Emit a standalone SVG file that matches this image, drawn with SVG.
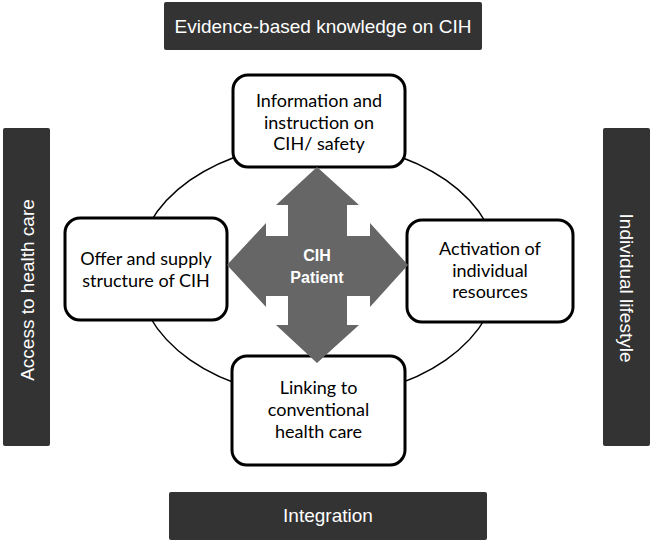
<svg xmlns="http://www.w3.org/2000/svg" width="652" height="544" viewBox="0 0 652 544">
<style>
.bar{fill:#333333}
.bartext{font-family:"Liberation Sans",Arial,sans-serif;font-size:19px;fill:#ffffff;text-anchor:middle}
.box{fill:#ffffff;stroke:#000000;stroke-width:3}
.boxtext{font-family:Lato,"Open Sans",sans-serif;font-size:18px;fill:#000000;text-anchor:middle}
.ring{fill:none;stroke:#000000;stroke-width:1.5}
.arrow{fill:#666666}
.ctext{font-family:"Liberation Sans",Arial,sans-serif;font-size:16px;font-weight:bold;fill:#ffffff;text-anchor:middle}
</style>
<rect width="652" height="544" fill="#ffffff"/>
<g id="connectors">
<ellipse class="ring" cx="318" cy="270" rx="181" ry="127"/>
</g>
<g id="bar-top">
<rect class="bar" x="164" y="2" width="318" height="48" rx="2"/>
<text class="bartext" x="323" y="33">Evidence-based knowledge on CIH</text>
</g>
<g id="bar-bottom">
<rect class="bar" x="169" y="492" width="318" height="48" rx="2"/>
<text class="bartext" x="328" y="522">Integration</text>
</g>
<g id="bar-left">
<rect class="bar" x="3" y="128" width="47" height="318" rx="2"/>
<text class="bartext" transform="translate(33.5,290) rotate(-90)">Access to health care</text>
</g>
<g id="bar-right">
<rect class="bar" x="603" y="128" width="47" height="318" rx="2"/>
<text class="bartext" transform="translate(620,288) rotate(90)">Individual lifestyle</text>
</g>
<g id="box-top">
<rect class="box" x="233" y="75" width="172" height="92" rx="15"/>
<text class="boxtext" x="319" y="107">Information and</text>
<text class="boxtext" x="319" y="128.5">instruction on</text>
<text class="boxtext" x="319" y="150">CIH/ safety</text>
</g>
<g id="box-left">
<rect class="box" x="65" y="218" width="162" height="102" rx="15"/>
<text class="boxtext" x="146" y="265">Offer and supply</text>
<text class="boxtext" x="146" y="286.5">structure of CIH</text>
</g>
<g id="box-right">
<rect class="box" x="407" y="220" width="166" height="102" rx="15"/>
<text class="boxtext" x="490" y="255">Activation of</text>
<text class="boxtext" x="490" y="276.5">individual</text>
<text class="boxtext" x="490" y="298">resources</text>
</g>
<g id="box-bottom">
<rect class="box" x="232" y="356" width="173" height="109" rx="15"/>
<text class="boxtext" x="318.5" y="394">Linking to</text>
<text class="boxtext" x="318.5" y="416">conventional</text>
<text class="boxtext" x="318.5" y="438">health care</text>
</g>
<g id="patient">
<polygon class="arrow" points="317,167 359,205 347,205 347,236 370,236 370,223 408,265 370,307 370,296 347,296 347,325 359,325 317,363 276,325 288,325 288,296 266,296 266,307 227,265 266,223 266,236 288,236 288,205 276,205"/>
<text class="ctext" x="317" y="261">CIH</text>
<text class="ctext" x="317" y="283">Patient</text>
</g>
</svg>
